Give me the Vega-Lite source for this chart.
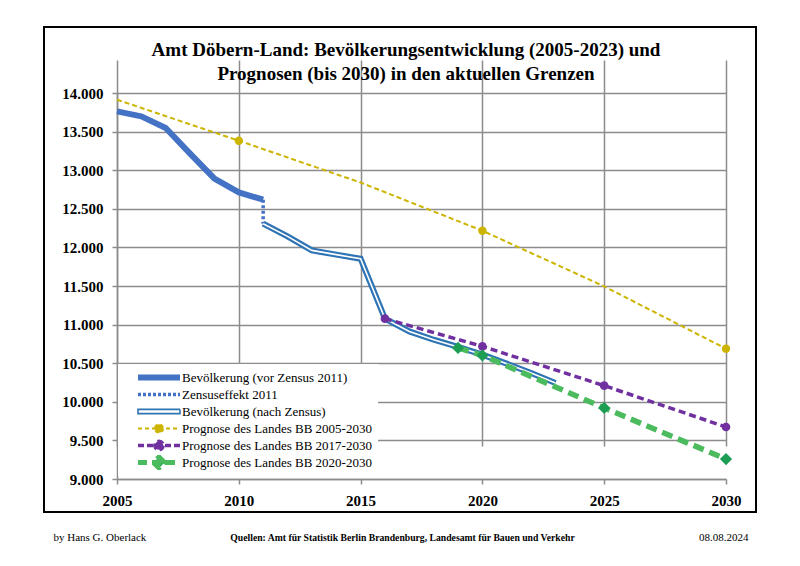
{
  "$schema": "https://vega.github.io/schema/vega-lite/v6.json",
  "width": 712,
  "height": 485,
  "autosize": {"type": "none"},
  "padding": {"left": 44, "top": 27, "right": 44, "bottom": 54},
  "background": "white",
  "config": {
    "view": {"stroke": "black", "strokeWidth": 2},
    "font": "Liberation Serif"
  },
  "title": {
    "text": ["Amt Döbern-Land:  Bevölkerungsentwicklung (2005-2023) und", "Prognosen (bis 2030) in den aktuellen Grenzen"],
    "font": "Liberation Serif",
    "fontSize": 19,
    "fontWeight": "bold",
    "color": "black",
    "lineHeight": 24,
    "anchor": "middle",
    "frame": "group",
    "baseline": "top",
    "offset": 0,
    "dy": 57,
    "dx": 6
  },
  "data": {
    "values": [
      {"series": "Bevölkerung (vor Zensus 2011)", "year": 2005, "value": 13762},
      {"series": "Bevölkerung (vor Zensus 2011)", "year": 2006, "value": 13697},
      {"series": "Bevölkerung (vor Zensus 2011)", "year": 2007, "value": 13547},
      {"series": "Bevölkerung (vor Zensus 2011)", "year": 2008, "value": 13214},
      {"series": "Bevölkerung (vor Zensus 2011)", "year": 2009, "value": 12890},
      {"series": "Bevölkerung (vor Zensus 2011)", "year": 2010, "value": 12712},
      {"series": "Bevölkerung (vor Zensus 2011)", "year": 2011, "value": 12618},
      {"series": "Zensuseffekt 2011", "year": 2011, "value": 12618},
      {"series": "Zensuseffekt 2011", "year": 2011, "value": 12307},
      {"series": "Bevölkerung (nach Zensus)", "year": 2011, "value": 12307},
      {"series": "Bevölkerung (nach Zensus)", "year": 2012, "value": 12143},
      {"series": "Bevölkerung (nach Zensus)", "year": 2013, "value": 11961},
      {"series": "Bevölkerung (nach Zensus)", "year": 2014, "value": 11906},
      {"series": "Bevölkerung (nach Zensus)", "year": 2015, "value": 11854},
      {"series": "Bevölkerung (nach Zensus)", "year": 2016, "value": 11077},
      {"series": "Bevölkerung (nach Zensus)", "year": 2017, "value": 10912},
      {"series": "Bevölkerung (nach Zensus)", "year": 2018, "value": 10804},
      {"series": "Bevölkerung (nach Zensus)", "year": 2019, "value": 10710},
      {"series": "Bevölkerung (nach Zensus)", "year": 2020, "value": 10610},
      {"series": "Bevölkerung (nach Zensus)", "year": 2021, "value": 10494},
      {"series": "Bevölkerung (nach Zensus)", "year": 2022, "value": 10373},
      {"series": "Bevölkerung (nach Zensus)", "year": 2023, "value": 10244},
      {"series": "Prognose des Landes BB 2005-2030", "year": 2005, "value": 13913},
      {"series": "Prognose des Landes BB 2005-2030", "year": 2010, "value": 13382},
      {"series": "Prognose des Landes BB 2005-2030", "year": 2015, "value": 12840},
      {"series": "Prognose des Landes BB 2005-2030", "year": 2020, "value": 12216},
      {"series": "Prognose des Landes BB 2005-2030", "year": 2025, "value": 11495},
      {"series": "Prognose des Landes BB 2005-2030", "year": 2030, "value": 10688},
      {"series": "Prognose des Landes BB 2017-2030", "year": 2016, "value": 11077},
      {"series": "Prognose des Landes BB 2017-2030", "year": 2020, "value": 10718},
      {"series": "Prognose des Landes BB 2017-2030", "year": 2025, "value": 10209},
      {"series": "Prognose des Landes BB 2017-2030", "year": 2030, "value": 9674},
      {"series": "Prognose des Landes BB 2020-2030", "year": 2019, "value": 10697},
      {"series": "Prognose des Landes BB 2020-2030", "year": 2020, "value": 10601},
      {"series": "Prognose des Landes BB 2020-2030", "year": 2025, "value": 9920},
      {"series": "Prognose des Landes BB 2020-2030", "year": 2030, "value": 9259}
    ]
  },
  "encoding": {
    "x": {
      "field": "year",
      "type": "quantitative",
      "scale": {"domain": [2005, 2030], "range": [73, 682], "nice": false, "zero": false},
      "axis": {
        "orient": "bottom",
        "offset": -33,
        "values": [2005, 2010, 2015, 2020, 2025, 2030],
        "format": "d",
        "grid": true,
        "gridColor": "#8c8c8c",
        "gridWidth": 1.5,
        "domainColor": "#8c8c8c",
        "domainWidth": 1.5,
        "tickColor": "#8c8c8c",
        "tickWidth": 1.5,
        "tickSize": 5,
        "labelFont": "Liberation Serif",
        "labelFontWeight": "bold",
        "labelFontSize": 15,
        "labelColor": "black",
        "labelPadding": 9,
        "labelFlush": false,
        "title": "Quellen: Amt für Statistik Berlin Brandenburg, Landesamt für Bauen und Verkehr",
        "titleFont": "Liberation Sans Narrow",
        "titleFontWeight": "bold",
        "titleFontSize": 9.7,
        "titleColor": "black",
        "titleX": 358,
        "titleY": 61,
        "titleAlign": "center",
        "titleBaseline": "alphabetic"
      }
    }
  },
  "resolve": {"axis": {"y": "independent"}},
  "layer": [
    {
      "transform": [{"filter": "datum.series === 'Prognose des Landes BB 2005-2030'"}],
      "mark": {"type": "line", "strokeWidth": 2, "strokeDash": [5, 3]},
      "encoding": {
        "y": {"field": "value", "type": "quantitative", "scale": {"domain": [9000, 14000], "range": [452, 66], "nice": false, "zero": false}, "axis": null},
        "color": {"field": "series", "type": "nominal"}
      }
    },
    {
      "transform": [{"filter": "datum.series === 'Prognose des Landes BB 2005-2030' && (datum.year === 2010 || datum.year === 2020 || datum.year === 2030)"}],
      "mark": {"type": "point", "filled": true, "shape": "circle", "size": 70, "opacity": 1, "color": "#CCB400"},
      "encoding": {
        "y": {"field": "value", "type": "quantitative", "axis": null}
      }
    },
    {
      "transform": [{"filter": "datum.series === 'Bevölkerung (vor Zensus 2011)'"}],
      "mark": {"type": "line", "strokeWidth": 6, "strokeJoin": "round"},
      "encoding": {
        "y": {
          "field": "value",
          "type": "quantitative",
          "scale": {"domain": [9000, 14000], "range": [452, 66], "nice": false, "zero": false},
          "axis": {
            "orient": "left",
            "offset": -73,
            "values": [9000, 9500, 10000, 10500, 11000, 11500, 12000, 12500, 13000, 13500, 14000],
            "labelExpr": "replace(format(datum.value, ',.0f'), ',', '.')",
            "grid": true,
            "gridColor": "#8c8c8c",
            "gridWidth": 1.5,
            "domainColor": "#8c8c8c",
            "domainWidth": 1.5,
            "tickColor": "#8c8c8c",
            "tickWidth": 1.5,
            "tickSize": 5,
            "labelFont": "Liberation Serif",
            "labelFontWeight": "bold",
            "labelFontSize": 15,
            "labelColor": "black",
            "labelPadding": 9,
            "title": "by Hans G. Oberlack",
            "titleAngle": 0,
            "titleX": -64,
            "titleY": 513,
            "titleAlign": "left",
            "titleBaseline": "alphabetic",
            "titleFont": "Liberation Serif",
            "titleFontWeight": "normal",
            "titleFontSize": 11,
            "titleColor": "black"
          }
        },
        "color": {
          "field": "series",
          "type": "nominal",
          "scale": {
            "domain": ["Bevölkerung (vor Zensus 2011)", "Zensuseffekt 2011", "Bevölkerung (nach Zensus)", "Prognose des Landes BB 2005-2030", "Prognose des Landes BB 2017-2030", "Prognose des Landes BB 2020-2030"],
            "range": ["#4472C4", "#4472C4", "#2E74B5", "#CCB400", "#7030A0", "#4CBB5E"]
          },
          "legend": {
            "orient": "none",
            "legendX": 74,
            "legendY": 337,
            "title": null,
            "fillColor": "white",
            "padding": 6,
            "symbolType": "stroke",
            "symbolSize": 1764,
            "symbolOffset": 28.5,
            "clipHeight": 15,
            "rowPadding": 2,
            "labelOffset": 16.5,
            "labelFont": "Liberation Serif",
            "labelFontSize": 13,
            "labelColor": "black",
            "labelLimit": 300,
            "encode": {
              "symbols": {
                "update": {
                  "shape": {"signal": "datum.value === 'Bevölkerung (nach Zensus)' ? 'M-1,-0.1H1V0.1H-1Z' : datum.value === 'Prognose des Landes BB 2020-2030' ? 'M-1,0H1M0,-0.26L0.26,0L0,0.26L-0.26,0Z' : indexof(datum.value, 'Prognose') === 0 ? 'M-1,0H1M0.2,0L0.173,0.1L0.1,0.173L0,0.2L-0.1,0.173L-0.173,0.1L-0.2,0L-0.173,-0.1L-0.1,-0.173L0,-0.2L0.1,-0.173L0.173,-0.1Z' : 'stroke'"},
                  "fill": {"signal": "datum.value === 'Bevölkerung (nach Zensus)' ? 'white' : datum.value === 'Prognose des Landes BB 2005-2030' ? '#CCB400' : datum.value === 'Prognose des Landes BB 2017-2030' ? '#7030A0' : datum.value === 'Prognose des Landes BB 2020-2030' ? '#1E9E55' : 'transparent'"},
                  "strokeWidth": {"signal": "datum.value === 'Bevölkerung (vor Zensus 2011)' ? 6 : datum.value === 'Zensuseffekt 2011' ? 3.5 : datum.value === 'Bevölkerung (nach Zensus)' ? 1.6 : datum.value === 'Prognose des Landes BB 2005-2030' ? 2 : datum.value === 'Prognose des Landes BB 2017-2030' ? 3.5 : 5"},
                  "strokeDash": {"signal": "datum.value === 'Zensuseffekt 2011' ? [3, 2] : datum.value === 'Prognose des Landes BB 2005-2030' ? [4, 3] : datum.value === 'Prognose des Landes BB 2017-2030' ? [6, 3] : datum.value === 'Prognose des Landes BB 2020-2030' ? [9, 5] : [1, 0]"}
                }
              }
            }
          }
        }
      }
    },
    {
      "transform": [{"filter": "datum.series === 'Zensuseffekt 2011'"}],
      "mark": {"type": "line", "strokeWidth": 3.5, "strokeDash": [3, 2.5]},
      "encoding": {
        "y": {
          "field": "value",
          "type": "quantitative",
          "axis": {
            "orient": "right",
            "labels": false,
            "ticks": false,
            "domain": false,
            "grid": false,
            "title": "08.08.2024",
            "titleAngle": 0,
            "titleX": -8,
            "titleY": 513,
            "titleAlign": "right",
            "titleBaseline": "alphabetic",
            "titleFont": "Liberation Serif",
            "titleFontWeight": "normal",
            "titleFontSize": 11,
            "titleColor": "black"
          }
        },
        "color": {"field": "series", "type": "nominal"}
      }
    },
    {
      "transform": [{"filter": "datum.series === 'Bevölkerung (nach Zensus)'"}],
      "mark": {"type": "line", "strokeWidth": 6, "strokeJoin": "miter"},
      "encoding": {
        "y": {"field": "value", "type": "quantitative", "axis": null},
        "color": {"field": "series", "type": "nominal"}
      }
    },
    {
      "transform": [{"filter": "datum.series === 'Bevölkerung (nach Zensus)'"}],
      "mark": {"type": "line", "strokeWidth": 1.6, "color": "white"},
      "encoding": {
        "y": {"field": "value", "type": "quantitative", "axis": null}
      }
    },
    {
      "transform": [{"filter": "datum.series === 'Prognose des Landes BB 2017-2030'"}],
      "mark": {"type": "line", "strokeWidth": 3.5, "strokeDash": [7, 4]},
      "encoding": {
        "y": {"field": "value", "type": "quantitative", "axis": null},
        "color": {"field": "series", "type": "nominal"}
      }
    },
    {
      "transform": [{"filter": "datum.series === 'Prognose des Landes BB 2017-2030'"}],
      "mark": {"type": "point", "filled": true, "shape": "circle", "size": 75, "opacity": 1, "color": "#7030A0"},
      "encoding": {
        "y": {"field": "value", "type": "quantitative", "axis": null}
      }
    },
    {
      "transform": [{"filter": "datum.series === 'Prognose des Landes BB 2020-2030'"}],
      "mark": {"type": "line", "strokeWidth": 5.5, "strokeDash": [11, 6]},
      "encoding": {
        "y": {"field": "value", "type": "quantitative", "axis": null},
        "color": {"field": "series", "type": "nominal"}
      }
    },
    {
      "transform": [{"filter": "datum.series === 'Prognose des Landes BB 2020-2030'"}],
      "mark": {"type": "point", "filled": true, "shape": "diamond", "size": 150, "opacity": 1, "color": "#1E9E55"},
      "encoding": {
        "y": {"field": "value", "type": "quantitative", "axis": null}
      }
    }
  ]
}
